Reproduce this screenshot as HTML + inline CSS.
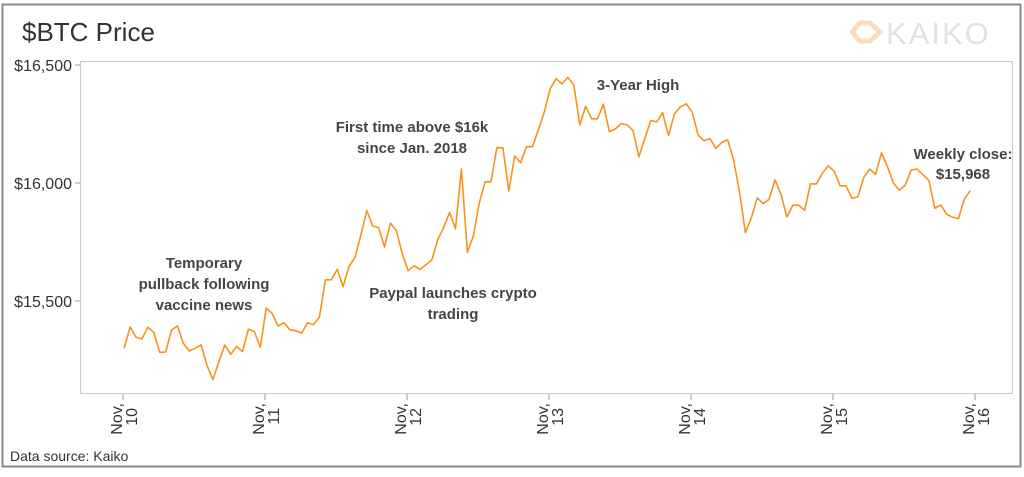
<!DOCTYPE html>
<html><head><meta charset="utf-8"><style>
html,body{margin:0;padding:0;background:#fff;}
body{width:1024px;height:472px;overflow:hidden;font-family:"Liberation Sans",sans-serif;}
svg text{font-family:"Liberation Sans",sans-serif;}
</style></head><body>
<svg id="chart" width="1024" height="472" viewBox="0 0 1024 472">
<rect x="2.5" y="4.5" width="1018" height="462" fill="#fff" stroke="#8a8a8a" stroke-width="2"/>
<text x="22" y="41" font-size="26" fill="#333">$BTC Price</text>
<g opacity="0.35">
<path d="M852 32 l8 -9 M860 23 l10 0 M852 32 l8 9 M860 41 l10 0 M870 23 l10 9 M870 41 l10 -9" stroke="#f2a041" stroke-width="5" stroke-linecap="round" fill="none"/>
<text x="886" y="44" font-size="31" fill="#aaa" letter-spacing="2">KAIKO</text>
</g>
<rect x="80.5" y="61.5" width="932" height="332" fill="none" stroke="#c8c8c8" stroke-width="1"/>
<g id="yaxis"></g>
<g id="xaxis"></g>
<path id="line" fill="none" stroke="#f7931a" stroke-width="1.6" stroke-linejoin="round"/>
<g font-size="15" font-weight="bold" fill="#454545" text-anchor="middle">
<text x="204" y="268"><tspan x="204">Temporary</tspan><tspan x="204" dy="21">pullback following</tspan><tspan x="204" dy="21">vaccine news</tspan></text>
<text x="453" y="298"><tspan x="453">Paypal launches crypto</tspan><tspan x="453" dy="21">trading</tspan></text>
<text x="412" y="132"><tspan x="412">First time above $16k</tspan><tspan x="412" dy="21">since Jan. 2018</tspan></text>
<text x="638" y="90">3-Year High</text>
<text x="963" y="159"><tspan x="963">Weekly close:</tspan><tspan x="963" dy="20">$15,968</tspan></text>
</g>
<text x="10" y="461" font-size="14" fill="#333">Data source: Kaiko</text>
</svg>
<script>
const prices = [15300,15390,15347,15339,15389,15367,15282,15284,15376,15395,15321,15288,15300,15314,15227,15167,15242,15313,15274,15307,15285,15380,15371,15304,15470,15448,15394,15408,15378,15374,15364,15408,15400,15431,15590,15590,15634,15561,15646,15684,15780,15883,15818,15811,15729,15830,15798,15699,15628,
15649,15634,15654,15674,15761,15811,15875,15806,16059,15706,15775,15913,16005,16005,16150,16149,15966,16115,16085,16154,16154,16226,16301,16399,16442,16420,16448,16414,16246,16325,16272,16272,16334,16217,16229,16252,16246,16223,16111,16190,16265,16259,16298,16201,16293,16323,16335,16300,16204,16179,16188,16147,16172,16183,
16098,15962,15790,15853,15937,15913,15931,16013,15953,15856,15906,15906,15884,15996,15996,16042,16073,16050,15988,15988,15935,15941,16024,16059,16037,16127,16070,15999,15970,15990,16055,16059,16035,16010,15893,15907,15868,15855,15849,15932,15968];
const yTicks = [15500,16000,16500];
const yTickLabels = ["$15,500","$16,000","$16,500"];
const dayLabels = ["10","11","12","13","14","15","16"];
const NS='http://www.w3.org/2000/svg';
function xScale(hour){return 123 + hour*(142/24);}
function yScale(v){return 183 - (v-16000)*0.236;}
const yg=document.getElementById('yaxis');
yTicks.forEach((t,i)=>{
  const y=yScale(t);
  const l=document.createElementNS(NS,'line');
  l.setAttribute('x1',75);l.setAttribute('x2',80);l.setAttribute('y1',y);l.setAttribute('y2',y);
  l.setAttribute('stroke','#999');
  
  
  yg.appendChild(l);
  const tx=document.createElementNS(NS,'text');
  tx.setAttribute('x',72);tx.setAttribute('y',y+6);tx.setAttribute('text-anchor','end');
  tx.setAttribute('font-size','16');tx.setAttribute('fill','#333');
  tx.textContent=yTickLabels[i];
  
  
  yg.appendChild(tx);
});
const xg=document.getElementById('xaxis');
dayLabels.forEach((d,i)=>{
  const x=xScale(i*24);
  const l=document.createElementNS(NS,'line');
  l.setAttribute('x1',x);l.setAttribute('x2',x);l.setAttribute('y1',394);l.setAttribute('y2',400);
  l.setAttribute('stroke','#999');
  
  
  xg.appendChild(l);
  const tx=document.createElementNS(NS,'text');
  tx.setAttribute('transform','translate('+(x-1)+',403) rotate(-90)');
  tx.setAttribute('text-anchor','end');
  tx.setAttribute('font-size','16');tx.setAttribute('fill','#333');
  const t1=document.createElementNS(NS,'tspan');t1.setAttribute('x',0);t1.setAttribute('y',0);t1.textContent='Nov,';
  const t2=document.createElementNS(NS,'tspan');t2.setAttribute('x',-5);t2.setAttribute('y',15);t2.textContent=d;
  tx.appendChild(t1);tx.appendChild(t2);
  
  
  xg.appendChild(tx);
});
let dstr='';
prices.forEach((v,i)=>{dstr+=(i?'L':'M')+xScale(i+0.2).toFixed(1)+' '+yScale(v).toFixed(1);});
document.getElementById('line').setAttribute('d',dstr);
</script>
</body></html>
